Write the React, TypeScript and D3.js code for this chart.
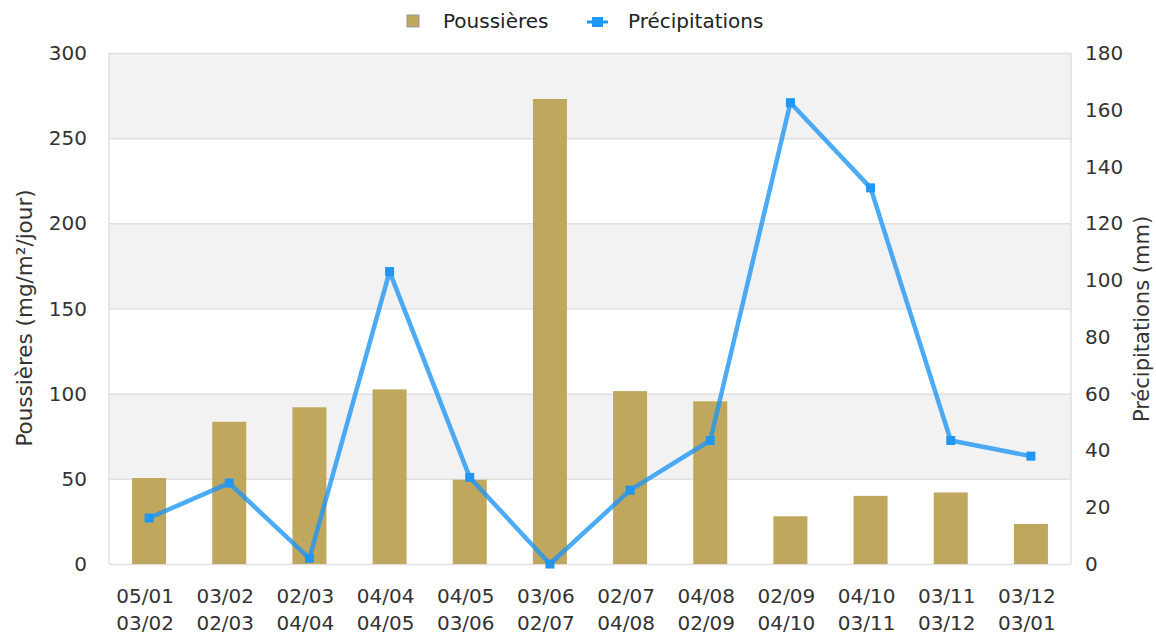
import React, { useRef, useEffect } from 'react';
import * as d3 from 'd3';

const periods = [
  ['05/01', '03/02'],
  ['03/02', '02/03'],
  ['02/03', '04/04'],
  ['04/04', '04/05'],
  ['04/05', '03/06'],
  ['03/06', '02/07'],
  ['02/07', '04/08'],
  ['04/08', '02/09'],
  ['02/09', '04/10'],
  ['04/10', '03/11'],
  ['03/11', '03/12'],
  ['03/12', '03/01'],
];
const dust = [50.5, 83.5, 92, 102.5, 49.5, 273, 101.5, 95.5, 28, 40, 42, 23.5];
const rain = [16.2, 28.5, 2, 103, 30.5, 0, 26, 43.5, 162.5, 132.5, 43.5, 38];
const dustTicks = [0, 50, 100, 150, 200, 250, 300];
const rainTicks = [0, 20, 40, 60, 80, 100, 120, 140, 160, 180];

const W = 1156;
const H = 634;
const FONT = 'DejaVu Sans, sans-serif';
const BAR = '#bfa75e';
const LINE = '#2196f3';

export default function App() {
  const svgRef = useRef<SVGSVGElement>(null);

  useEffect(() => {
    if (!svgRef.current) return;
    const svg = d3.select(svgRef.current);
    svg.selectAll('*').remove();

    const margin = { top: 53, right: 85, bottom: 70, left: 109 };
    const x0 = margin.left;
    const x1 = W - margin.right;
    const y0 = H - margin.bottom;
    const y1 = margin.top;

    const x = d3.scaleBand<number>().domain(d3.range(periods.length)).range([x0, x1]);
    const cx = (i: number) => x(i)! + x.bandwidth() / 2;
    const yL = d3.scaleLinear().domain([0, 300]).range([y0, y1]);
    const yR = d3.scaleLinear().domain([0, 180]).range([y0, y1]);

    // alternating bands
    for (let i = 0; i < dustTicks.length - 1; i++) {
      if (i % 2 === 1) {
        svg.append('rect')
          .attr('x', x0)
          .attr('y', yL(dustTicks[i + 1]))
          .attr('width', x1 - x0)
          .attr('height', yL(dustTicks[i]) - yL(dustTicks[i + 1]))
          .attr('fill', '#f2f2f2');
      }
    }

    // grid lines
    svg.append('g')
      .selectAll('line')
      .data(dustTicks)
      .join('line')
      .attr('x1', x0)
      .attr('x2', x1)
      .attr('y1', (d) => yL(d) + 0.5)
      .attr('y2', (d) => yL(d) + 0.5)
      .attr('stroke', '#e0e0e0')
      .attr('stroke-width', 1.5);

    svg.append('line')
      .attr('x1', x0).attr('x2', x0).attr('y1', y1).attr('y2', y0)
      .attr('stroke', '#e0e0e0').attr('stroke-width', 1.5);
    svg.append('line')
      .attr('x1', x1).attr('x2', x1).attr('y1', y1).attr('y2', y0)
      .attr('stroke', '#e0e0e0').attr('stroke-width', 1.5);

    // bars
    const bw = 34;
    svg.append('g')
      .selectAll('rect')
      .data(dust)
      .join('rect')
      .attr('x', (_, i) => cx(i) - bw / 2)
      .attr('y', (d) => yL(d))
      .attr('width', bw)
      .attr('height', (d) => y0 - yL(d))
      .attr('fill', BAR);

    // line
    const line = d3.line<number>()
      .x((_, i) => cx(i))
      .y((d) => yR(d));
    svg.append('path')
      .datum(rain)
      .attr('d', line)
      .attr('fill', 'none')
      .attr('stroke', LINE)
      .attr('stroke-opacity', 0.8)
      .attr('stroke-width', 4.5)
      .attr('stroke-linejoin', 'round');

    svg.append('g')
      .selectAll('rect')
      .data(rain)
      .join('rect')
      .attr('x', (_, i) => cx(i) - 4.5)
      .attr('y', (d) => yR(d) - 4.5)
      .attr('width', 9)
      .attr('height', 9)
      .attr('fill', LINE);

    // left axis labels
    svg.append('g')
      .selectAll('text')
      .data(dustTicks)
      .join('text')
      .attr('x', 87)
      .attr('y', (d) => yL(d) + 7)
      .attr('text-anchor', 'end')
      .attr('fill', '#333')
      .style('font', `20px ${FONT}`)
      .text((d) => d);

    // right axis labels
    svg.append('g')
      .selectAll('text')
      .data(rainTicks)
      .join('text')
      .attr('x', 1085)
      .attr('y', (d) => yR(d) + 7)
      .attr('fill', '#333')
      .style('font', `20px ${FONT}`)
      .text((d) => d);

    // x labels
    const xl = svg.append('g')
      .selectAll('text')
      .data(periods)
      .join('text')
      .attr('text-anchor', 'middle')
      .attr('fill', '#333')
      .style('font', `20px ${FONT}`);
    xl.append('tspan')
      .attr('x', (_, i) => cx(i) - 4)
      .attr('y', 603)
      .text((d) => d[0]);
    xl.append('tspan')
      .attr('x', (_, i) => cx(i) - 4)
      .attr('y', 630)
      .text((d) => d[1]);

    // axis titles
    svg.append('text')
      .attr('transform', `translate(32,318) rotate(-90)`)
      .attr('text-anchor', 'middle')
      .attr('fill', '#333')
      .style('font', `21.5px ${FONT}`)
      .text('Poussières (mg/m²/jour)');
    svg.append('text')
      .attr('transform', `translate(1149,319) rotate(-90)`)
      .attr('text-anchor', 'middle')
      .attr('fill', '#333')
      .style('font', `21px ${FONT}`)
      .text('Précipitations (mm)');

    // legend
    const lg = svg.append('g');
    lg.append('rect')
      .attr('x', 407).attr('y', 15).attr('width', 12).attr('height', 12)
      .attr('fill', BAR).attr('stroke', '#999').attr('stroke-width', 1);
    lg.append('text')
      .attr('x', 443).attr('y', 28)
      .attr('fill', '#222')
      .style('font', `20px ${FONT}`)
      .text('Poussières');
    lg.append('line')
      .attr('x1', 587).attr('x2', 608).attr('y1', 22).attr('y2', 22)
      .attr('stroke', LINE).attr('stroke-width', 3);
    lg.append('rect')
      .attr('x', 592).attr('y', 17).attr('width', 11).attr('height', 10)
      .attr('fill', LINE);
    lg.append('text')
      .attr('x', 628).attr('y', 28)
      .attr('fill', '#222')
      .style('font', `20px ${FONT}`)
      .text('Précipitations');
  }, []);

  return (
    <svg
      ref={svgRef}
      width={W}
      height={H}
      style={{ position: 'absolute', top: 0, left: 0, background: '#fff' }}
    />
  );
}
